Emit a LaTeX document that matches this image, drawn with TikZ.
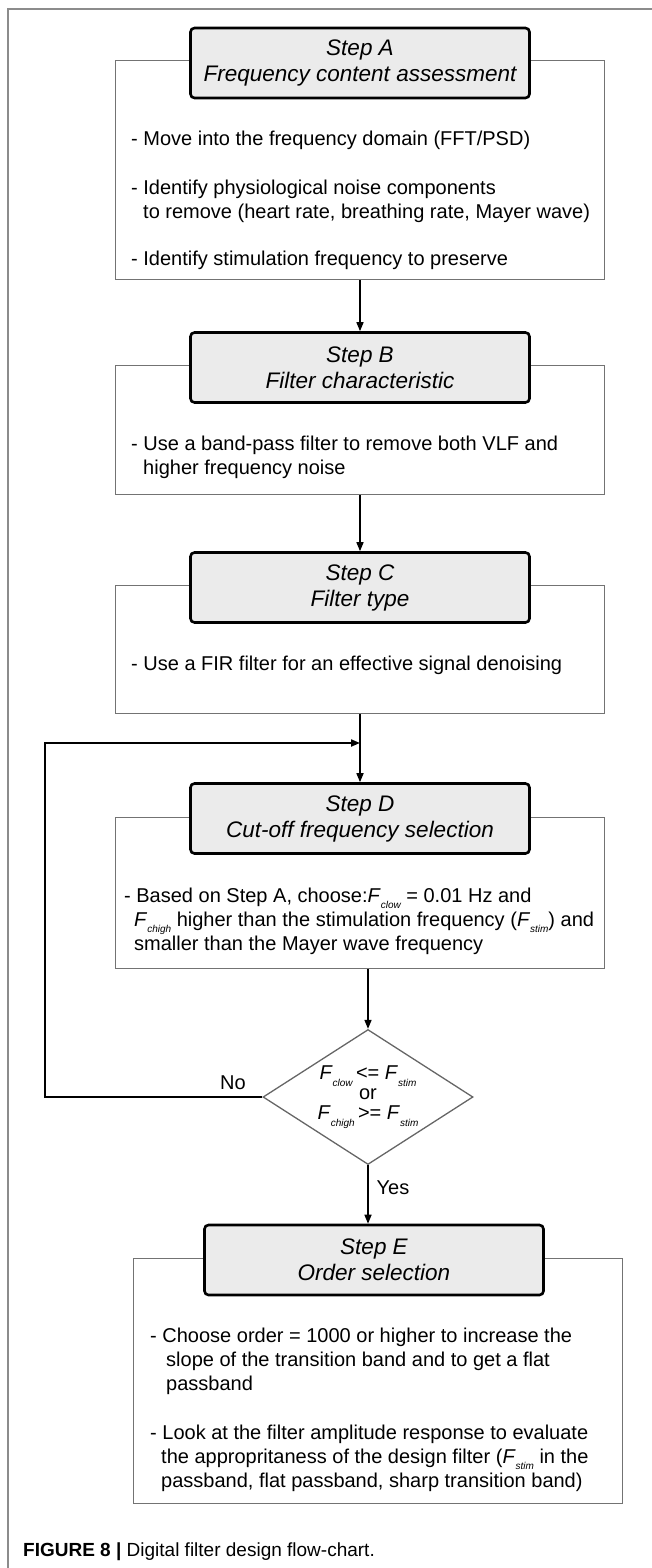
\documentclass[tikz,border=0pt]{standalone}
\usepackage{fontspec}
\setmainfont{Liberation Sans}
\usepackage{tikz}
\usetikzlibrary{shapes.geometric, arrows.meta}
\usetikzlibrary{positioning}

\newcommand{\Fsub}[1]{\textit{F}\raisebox{-0.6ex}{\fontsize{10}{10}\selectfont\itshape #1}}

\begin{document}
\begin{tikzpicture}[x=1pt, y=-1pt, >={Triangle[length=9pt,width=7pt]},
        titlebox/.style={draw, line width=2.6pt, rounded corners=4pt, fill=gray!16, minimum width=339pt, minimum height=70pt, inner sep=0pt, align=center, font=\fontsize{22.5}{26}\selectfont\itshape},
        stepframe/.style={draw=black!55, line width=1.3pt, minimum width=489pt, inner sep=0pt, anchor=north},
        bullet/.style={anchor=north west, align=left, inner sep=0pt, font=\fontsize{20}{24}\selectfont},
        decision/.style={diamond, draw=black!60, line width=1.3pt, minimum width=210pt, minimum height=135pt, inner sep=0pt},
        link/.style={->, line width=1.5pt},
        answer/.style={font=\fontsize{20}{24}\selectfont}]
        \useasboundingbox (0,0) rectangle (652,1568);

        % Draw the page frame
        \draw[black!45, line width=1.3pt] (652,9) -- (8,9) -- (8,1568);

        % Step A
        \node[stepframe, minimum height=219pt] (boxA) at (360,60) {};
        \node[titlebox] (titleA) at (360,63) {Step A\\Frequency content assessment};
        \node[bullet] (txtA1) at (131,130.5) {- Move into the frequency domain (FFT/PSD)};
        \node[bullet] (txtA2) at (131,179.5) {- Identify physiological noise components\\\hspace*{12pt}to remove (heart rate, breathing rate, Mayer wave)};
        \node[bullet] (txtA3) at (131,250.5) {- Identify stimulation frequency to preserve};

        % Step B
        \node[stepframe, minimum height=129pt] (boxB) at (360,365) {};
        \node[titlebox] (titleB) at (360,367.5) {Step B\\Filter characteristic};
        \node[bullet] (txtB1) at (131,435.5) {- Use a band-pass filter to remove both VLF and\\\hspace*{12pt}higher frequency noise};

        % Step C
        \node[stepframe, minimum height=128pt] (boxC) at (360,585) {};
        \node[titlebox] (titleC) at (360,587.5) {Step C\\Filter type};
        \node[bullet] (txtC1) at (131,655.5) {- Use a FIR filter for an effective signal denoising};

        % Step D
        \node[stepframe, minimum height=151pt] (boxD) at (360,817) {};
        \node[titlebox] (titleD) at (360,818.5) {Step D\\Cut-off frequency selection};
        \node[bullet] (txtD1) at (124,887.5) {- Based on Step A, choose:\Fsub{clow} = 0.01 Hz and\\\hspace*{10pt}\Fsub{chigh} higher than the stimulation frequency (\Fsub{stim}) and\\\hspace*{10pt}smaller than the Mayer wave frequency};

        % Decision
        \node[decision] (dec) at (368,1097) {};
        \node[answer, align=center, inner sep=0pt] (decTxt) at (dec.center) {\Fsub{clow}\,<= \Fsub{stim}\\[-4pt]or\\[-4pt]\Fsub{chigh}\,>= \Fsub{stim}};

        % Step E
        \node[stepframe, minimum height=245pt] (boxE) at (378,1258) {};
        \node[titlebox] (titleE) at (374,1260) {Step E\\Order selection};
        \node[bullet] (txtE1) at (150,1327.5) {- Choose order = 1000 or higher to increase the\\\hspace*{16pt}slope of the transition band and to get a flat\\\hspace*{16pt}passband};
        \node[bullet] (txtE2) at (150,1424.5) {- Look at the filter amplitude response to evaluate\\\hspace*{11pt}the appropritaness of the design filter (\Fsub{stim} in the\\\hspace*{11pt}passband, flat passband, sharp transition band)};

        % Draw the arrows
        \coordinate (merge) at (360,743);
        \draw[link] (titleB.north |- boxA.south) -- (titleB.north);
        \draw[link] (boxB.south) -- (titleC.north);
        \draw[link] (boxC.south) -- (titleD.north);
        \draw[link] (dec.north |- boxD.south) -- (dec.north);
        \draw[link] (dec.south) -- (dec.south |- titleE.north);
        \draw[link, line width=2pt] (dec.west) -- ++(-217,0) |- (merge);

        % Label the branches
        \node[answer] (no) at (233,1083) {No};
        \node[answer] (yes) at (393,1188) {Yes};

        % Add caption
        \node[anchor=west, inner sep=0pt, font=\fontsize{19}{22}\selectfont] (caption) at (23,1552) {\textbf{FIGURE 8 |} Digital filter design flow-chart.};
    \end{tikzpicture}
\end{document}
